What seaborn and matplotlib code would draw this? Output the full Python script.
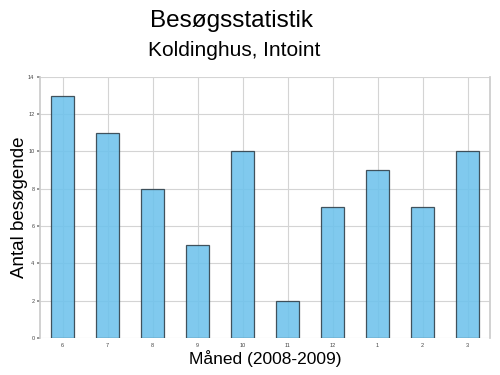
import matplotlib
matplotlib.use("Agg")
import matplotlib.pyplot as plt
import seaborn as sns
import pandas as pd

months = ["6", "7", "8", "9", "10", "11", "12", "1", "2", "3"]
visitors = [13, 11, 8, 5, 10, 2, 7, 9, 7, 10]

TITLE = "Besøgsstatistik"
SUBTITLE = "Koldinghus, Intoint"
XLABEL = "Måned (2008-2009)"
YLABEL = "Antal besøgende"

sns.set_theme(style="whitegrid")
plt.rcParams.update({
    "font.family": ["Liberation Sans", "DejaVu Sans"],
    "grid.color": "#d4d4d4",
    "grid.linewidth": 0.8,
    "axes.edgecolor": "#cccccc",
    "text.color": "black",
    "axes.labelcolor": "black",
    "xtick.color": "#444444",
    "ytick.color": "#444444",
})

df = pd.DataFrame({"month": months, "visitors": visitors})

fig = plt.figure(figsize=(5, 3.75), dpi=100)
ax = fig.add_axes([0.08, 0.099, 0.90, 0.696])

sns.barplot(data=df, x="month", y="visitors", order=months, ax=ax,
            color="#6ec2ec", saturation=1, alpha=0.88, width=0.5,
            edgecolor="#2e3e48", linewidth=0.9)
ax.set_axisbelow(True)
ax.grid(True, axis="both")

ax.set_xlim(-0.5, 9.5)
ax.set_ylim(0, 14)
ax.set_yticks(range(0, 15, 2))
ax.tick_params(axis="both", labelsize=4, length=2, color="#888888", pad=2)
ax.tick_params(axis="y", left=True)
ax.tick_params(axis="x", bottom=False)
ax.set_xlabel(XLABEL, fontsize=12.5, labelpad=1)
ax.set_ylabel(YLABEL, fontsize=13.5, labelpad=0)
for s in ax.spines.values():
    s.set_visible(False)
ax.spines["left"].set_visible(True)
ax.spines["right"].set_visible(True)

fig.text(0.464, 0.945, TITLE, ha="center", va="center", fontsize=17.5)
fig.text(0.468, 0.865, SUBTITLE, ha="center", va="center", fontsize=15)

fig.savefig("out.png", dpi=100)
